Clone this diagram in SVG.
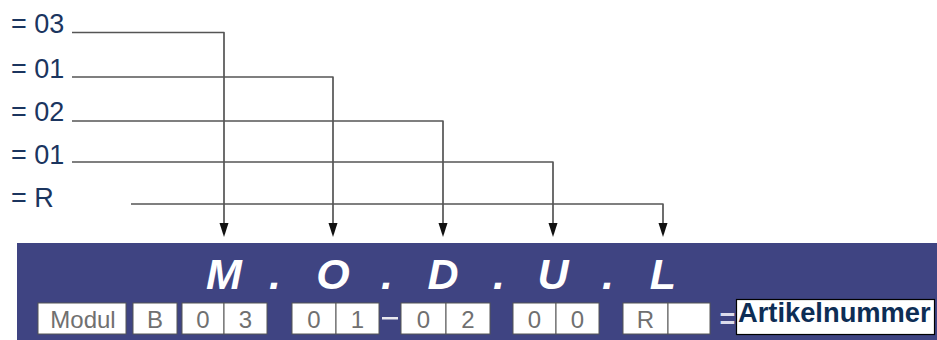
<svg xmlns="http://www.w3.org/2000/svg" width="937" height="340" viewBox="0 0 937 340">
<defs>
<style>
.lbl{font-family:"Liberation Sans",Arial,sans-serif;font-size:27px;fill:#1b355f}
.conn{fill:none;stroke:#555;stroke-width:1.7;stroke-linejoin:round}
.big{font-family:"Liberation Sans",Arial,sans-serif;font-size:43px;font-weight:bold;font-style:italic;fill:#fff;text-anchor:middle}
.cell{fill:#fff;stroke:#555;stroke-width:1}
.ct{font-family:"Liberation Sans",Arial,sans-serif;font-size:24px;fill:#707070;text-anchor:middle}
</style>
</defs>
<rect width="937" height="340" fill="#fff"/>
<g id="labels">
<text class="lbl" x="11" y="33">= 03</text>
<text class="lbl" x="11" y="78">= 01</text>
<text class="lbl" x="11" y="121">= 02</text>
<text class="lbl" x="11" y="164">= 01</text>
<text class="lbl" x="11" y="207">= R</text>
</g>
<g id="connectors">
<path class="conn" d="M72,32.5 H224 V224"/>
<path class="conn" d="M72,77 H333 V224"/>
<path class="conn" d="M72,121 H443 V224"/>
<path class="conn" d="M72,162 H553 V224"/>
<path class="conn" d="M131,204 H663 V224"/>
<g fill="#111">
<path d="M219.5,223 L228.5,223 L224,237 Z"/>
<path d="M328.5,223 L337.5,223 L333,237 Z"/>
<path d="M438.5,223 L447.5,223 L443,237 Z"/>
<path d="M548.5,223 L557.5,223 L553,237 Z"/>
<path d="M658.5,223 L667.5,223 L663,237 Z"/>
</g>
</g>
<g id="band">
<rect x="17" y="243" width="920" height="97" fill="#3f4482"/>
<text class="big" x="224" y="289">M</text>
<text class="big" x="275" y="289">.</text>
<text class="big" x="333" y="289">O</text>
<text class="big" x="387" y="289">.</text>
<text class="big" x="443" y="289">D</text>
<text class="big" x="499" y="289">.</text>
<text class="big" x="553" y="289">U</text>
<text class="big" x="608" y="289">.</text>
<text class="big" x="663" y="289">L</text>
</g>
<g id="cells">
<rect class="cell" x="38" y="303" width="88" height="31"/>
<text class="ct" x="83" y="328">Modul</text>
<rect class="cell" x="133" y="303" width="44" height="31"/>
<text class="ct" x="155" y="328">B</text>
<rect class="cell" x="182" y="303" width="42" height="31"/>
<rect class="cell" x="224" y="303" width="43" height="31"/>
<text class="ct" x="203" y="328">0</text>
<text class="ct" x="245.5" y="328">3</text>
<rect class="cell" x="292" y="303" width="44" height="31"/>
<rect class="cell" x="336" y="303" width="43" height="31"/>
<text class="ct" x="314" y="328">0</text>
<text class="ct" x="357.5" y="328">1</text>
<rect x="382" y="317" width="16" height="2.5" fill="#e8e8f0"/>
<rect class="cell" x="401" y="303" width="45" height="31"/>
<rect class="cell" x="446" y="303" width="44" height="31"/>
<text class="ct" x="423.5" y="328">0</text>
<text class="ct" x="468" y="328">2</text>
<rect class="cell" x="513" y="303" width="43" height="31"/>
<rect class="cell" x="556" y="303" width="43" height="31"/>
<text class="ct" x="534.5" y="328">0</text>
<text class="ct" x="577.5" y="328">0</text>
<rect class="cell" x="623" y="303" width="45" height="31"/>
<rect class="cell" x="668" y="303" width="42" height="31"/>
<text class="ct" x="645.5" y="328">R</text>
<text x="727.5" y="328" font-family="Liberation Sans, Arial, sans-serif" font-size="27" font-weight="bold" fill="#dcdcec" text-anchor="middle">=</text>
</g>
<g id="artikelnummer">
<rect x="736.5" y="299.5" width="198" height="35" fill="#fff" stroke="#000" stroke-width="1.2"/>
<text x="738" y="321.5" font-family="Liberation Sans, Arial, sans-serif" font-size="27.3" font-weight="bold" fill="#0d2d55">Artikelnummer</text>
</g>
</svg>
